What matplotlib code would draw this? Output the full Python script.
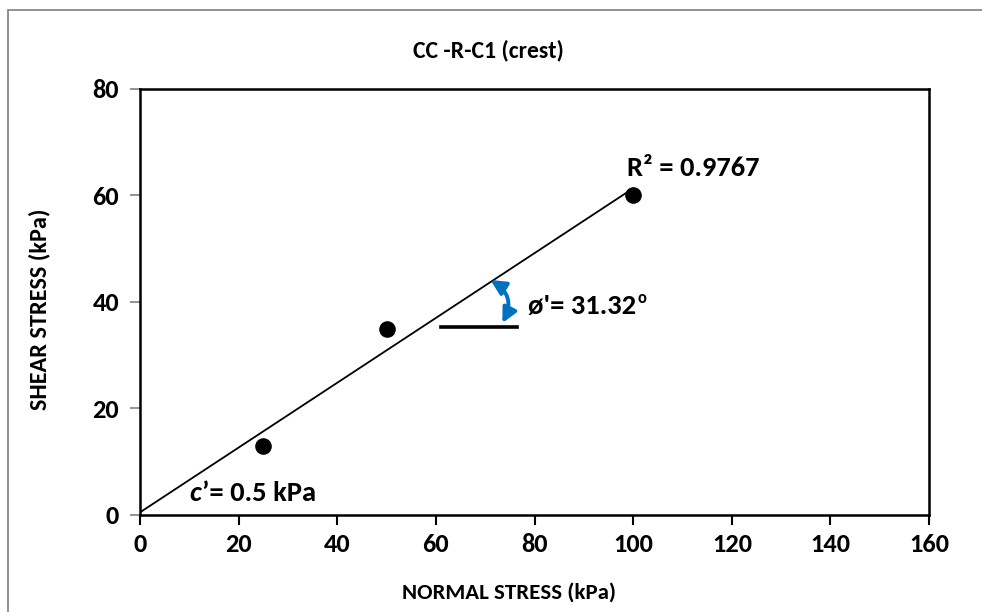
import numpy as np
import matplotlib
matplotlib.use("Agg")
import matplotlib.pyplot as plt
from matplotlib.patches import Rectangle, FancyArrowPatch
from matplotlib import font_manager

# Pick a family that ships a static bold face
bold_faces = {f.name for f in font_manager.fontManager.ttflist
              if 'Bold' in f.fname.split('/')[-1] and f.style == 'normal'}
family = next((f for f in ['Carlito', 'Lato', 'Open Sans', 'Noto Sans', 'Liberation Sans']
               if f in bold_faces), 'DejaVu Sans')
plt.rcParams['font.family'] = [family, 'DejaVu Sans']
plt.rcParams['font.weight'] = 'bold'

# Direct shear test results
normal_stress = [25, 50, 100]
shear_stress = [13, 35, 60]
cohesion = 0.5
phi_deg = 31.32
r_squared = 0.9767

x_ticks = [0, 20, 40, 60, 80, 100, 120, 140, 160]
y_ticks = [0, 20, 40, 60, 80]

TICK_FS = 19
LABEL_FS = 16.5
NOTE_FS = 20.5

fig = plt.figure(figsize=(9.82, 6.12), dpi=100)
ax = fig.add_axes([0.1426, 0.1585, 0.8035, 0.6961])
ax.set_xlim(0, 160)
ax.set_ylim(0, 80)

# Chart-area border
fig.patches.append(Rectangle((0.008, -0.05), 1.2, 1.034, transform=fig.transFigure,
                             fill=False, edgecolor='#7f7f7f', linewidth=1.2))

# Linear envelope through the fitted intercept and friction angle
slope = np.tan(np.radians(phi_deg))
xf = np.array([0, normal_stress[-1]])
ax.plot(xf, cohesion + slope * xf, color='black', linewidth=1.3, zorder=2)

ax.scatter(normal_stress, shear_stress, s=120, color='black', zorder=3)

# Horizontal reference line and angle arrow
ax.plot([61, 76.5], [35.3, 35.3], color='black', linewidth=2.6, zorder=2)
arrow = FancyArrowPatch((70.6, 44.4), (73.2, 35.6), arrowstyle='<|-|>', mutation_scale=22,
                        connectionstyle='arc3,rad=-0.5', color='#0070C0', linewidth=2.8, zorder=4)
ax.add_patch(arrow)

ax.set_xticks(x_ticks)
ax.set_yticks(y_ticks)
ax.tick_params(axis='x', direction='out', length=7, width=1.5, color='black',
               labelsize=TICK_FS, pad=6)
ax.tick_params(axis='y', direction='out', length=7, width=1.2, color='#7f7f7f',
               labelsize=TICK_FS, pad=8)
for lab in ax.get_xticklabels() + ax.get_yticklabels():
    lab.set_fontweight('bold')

renderer = fig.canvas.get_renderer()
to_data = ax.transData.inverted()

phi_txt = ax.text(78.6, 39.2, "ø'= 31.32", fontsize=NOTE_FS, fontweight='bold',
                  va='center', ha='left')
bb = phi_txt.get_window_extent(renderer).transformed(to_data)
ax.text(bb.x1 + 0.3, 40.8, "o", fontsize=12, fontweight='bold', va='center', ha='left')

ax.text(98.8, 65.2, f"R² = {r_squared}", fontsize=NOTE_FS, fontweight='bold',
        va='center', ha='left')

c_txt = ax.text(10.1, 4.1, "c", fontsize=NOTE_FS, fontweight='bold', style='italic',
                va='center', ha='left')
cb = c_txt.get_window_extent(renderer).transformed(to_data)
ax.text(cb.x1 + 0.1, 4.1, "’= 0.5 kPa", fontsize=NOTE_FS, fontweight='bold',
        va='center', ha='left')

for sp in ax.spines.values():
    sp.set_linewidth(1.8)
    sp.set_color('black')

ax.set_xlabel('NORMAL STRESS (kPa)', fontsize=LABEL_FS, fontweight='bold')
ax.set_ylabel('SHEAR STRESS (kPa)', fontsize=LABEL_FS + 1, fontweight='bold')
ax.xaxis.label.set_va('center')
ax.yaxis.label.set_va('center')
ax.xaxis.set_label_coords(0.467, -0.183)
ax.yaxis.set_label_coords(-0.127, 0.484)
fig.text(0.497, 0.918, 'CC -R-C1 (crest)', fontsize=LABEL_FS + 0.5, fontweight='bold',
         ha='center', va='center')

fig.savefig('out.png', dpi=100)
